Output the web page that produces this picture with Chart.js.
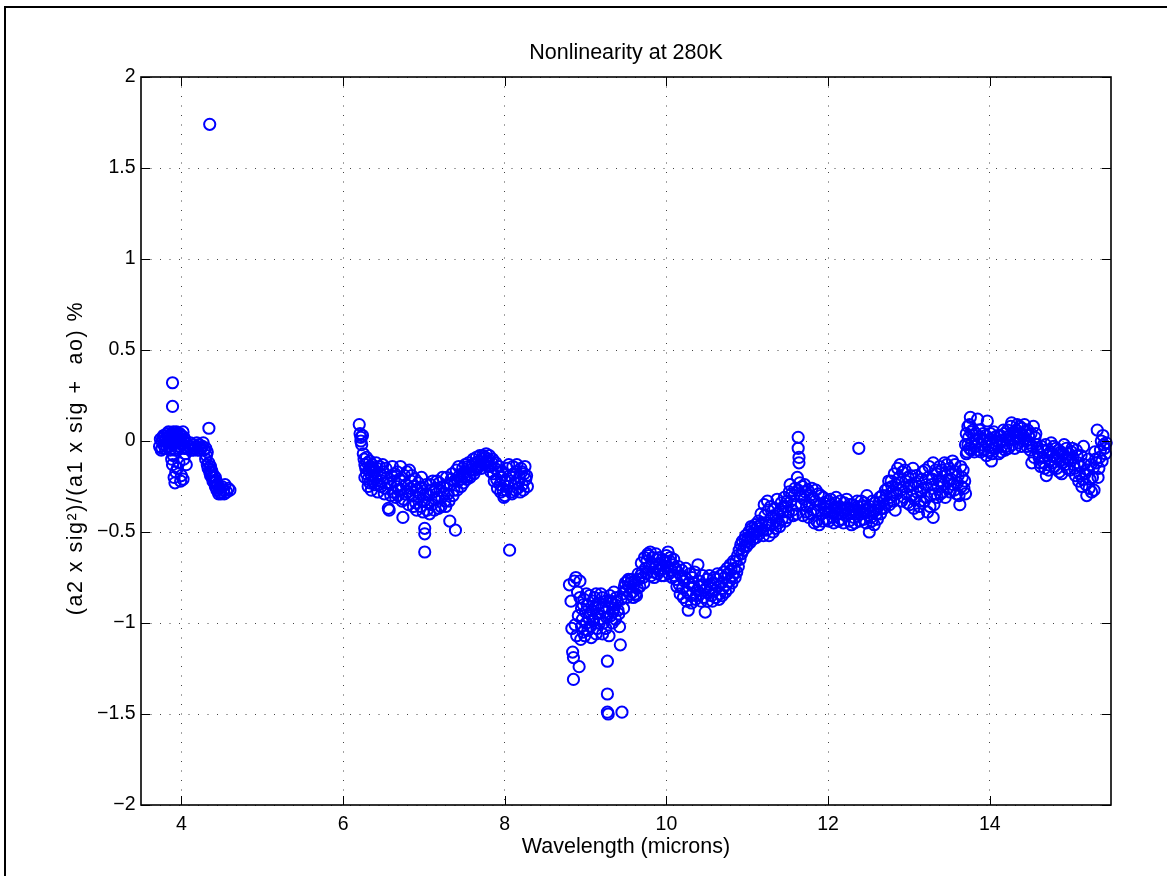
<!DOCTYPE html>
<html>
<head>
<meta charset="utf-8">
<title>Nonlinearity at 280K</title>
<script src="https://cdn.jsdelivr.net/npm/chart.js@4/dist/chart.umd.min.js"></script>
<style>
  html, body { margin: 0; padding: 0; background: #fff; overflow: hidden; }
  canvas { display: block; }
</style>
</head>
<body>
<canvas id="chart" width="1167" height="876"></canvas>
<script>
// Nonlinearity at 280K — MATLAB-style scatter of open blue circles.

const chartTitle = 'Nonlinearity at 280K';
const xTitle = 'Wavelength (microns)';
const yTitle = '(a2 x sig\u00b2)/(a1 x sig +  ao) %';

const xTickValues = [4, 6, 8, 10, 12, 14];
const yTickValues = [-2, -1.5, -1, -0.5, 0, 0.5, 1, 1.5, 2];

// ── Short-wave band ───────────────────────────────────────────────────────────
const swWavelength = [
  3.73, 3.75, 3.76, 3.77, 3.78, 3.79, 3.80, 3.81, 3.82, 3.83,
  3.84, 3.85, 3.86, 3.87, 3.88, 3.88, 3.89, 3.89, 3.89, 3.90,
  3.90, 3.90, 3.91, 3.91, 3.92, 3.92, 3.92, 3.93, 3.93, 3.94,
  3.95, 3.95, 3.96, 3.97, 3.97, 3.98, 3.99, 3.99, 4.00, 4.00,
  4.01, 4.02, 4.02, 4.03, 4.03, 4.04, 4.05, 4.06, 4.08, 4.10,
  4.12, 4.14, 4.16, 4.18, 4.20, 4.22, 4.24, 4.26, 4.28, 4.30,
  4.30, 4.32, 4.32, 4.33, 4.34, 4.34, 4.35, 4.35, 4.36, 4.37,
  4.38, 4.39, 4.40, 4.41, 4.42, 4.43, 4.44, 4.45, 4.46, 4.47,
  4.48, 4.50, 4.52, 4.54, 4.56, 4.58, 4.60,
  3.74, 3.76, 3.78, 3.80, 3.82, 3.84, 3.86, 3.88, 3.90, 3.92,
  3.94, 3.96, 3.98, 4.00, 4.02, 4.04, 4.11, 4.15, 4.19, 4.23,
  4.27, 4.31, 4.36, 4.38, 4.40, 4.42, 4.44, 4.46, 4.49, 4.53
];
const swNonlin = [
  -0.03, -0.05, 0.00, 0.02, -0.02, 0.03, -0.04, 0.01, 0.04, -0.01,
  0.02, -0.03, 0.03, 0.00, 0.04, -0.10, 0.32, 0.19, -0.13, -0.02,
  0.03, -0.08, 0.01, -0.20, -0.05, 0.02, -0.23, 0.04, -0.17, -0.01,
  0.03, -0.15, 0.00, 0.02, -0.12, -0.03, 0.01, -0.22, 0.03, -0.19,
  -0.02, 0.00, -0.21, 0.02, -0.10, -0.04, -0.07, -0.13, -0.04, -0.03,
  -0.05, -0.02, -0.04, -0.03, -0.05, -0.02, -0.04, -0.03, -0.05, -0.04,
  -0.10, -0.06, -0.13, -0.15, 0.07, -0.12, 1.74, -0.17, -0.19, -0.16,
  -0.20, -0.22, -0.19, -0.23, -0.25, -0.22, -0.27, -0.24, -0.29, -0.26,
  -0.28, -0.25, -0.27, -0.24, -0.28, -0.26, -0.27,
  0.01, -0.04, 0.03, 0.00, -0.03, 0.05, -0.05, 0.01, 0.05, -0.01,
  0.05, -0.04, 0.04, -0.01, 0.05, 0.01, -0.01, -0.05, -0.01, -0.05,
  -0.01, -0.08, -0.14, -0.17, -0.22, -0.20, -0.24, -0.26, -0.29, -0.29
];

// ── Mid-wave band ─────────────────────────────────────────────────────────────
const mwWavelength = [
  6.20, 6.21, 6.22, 6.22, 6.23, 6.24, 6.25, 6.26, 6.27, 6.28,
  6.29, 6.30, 6.31, 6.32, 6.33, 6.34, 6.35, 6.36, 6.37, 6.38,
  6.40, 6.42, 6.44, 6.46, 6.48, 6.50, 6.52, 6.54, 6.56, 6.57,
  6.58, 6.60, 6.62, 6.64, 6.66, 6.68, 6.70, 6.72, 6.74, 6.75,
  6.76, 6.78, 6.80, 6.82, 6.84, 6.86, 6.88, 6.90, 6.92, 6.94,
  6.96, 6.98, 7.00, 7.01, 7.01, 7.01, 7.02, 7.04, 7.06, 7.08,
  7.10, 7.12, 7.14, 7.16, 7.18, 7.20, 7.22, 7.24, 7.26, 7.28,
  7.30, 7.32, 7.33, 7.35, 7.37, 7.39, 7.40, 7.42, 7.44, 7.46,
  7.48, 7.50, 7.52, 7.54, 7.56, 7.58, 7.60, 7.62, 7.64, 7.66,
  7.68, 7.70, 7.72, 7.74, 7.76, 7.78, 7.80, 7.82, 7.84, 7.86,
  7.88, 7.90, 7.92, 7.94, 7.96, 7.98, 8.00, 8.01, 8.03, 8.04,
  8.06, 8.06, 8.08, 8.10, 8.12, 8.14, 8.16, 8.18, 8.20, 8.22,
  8.24, 8.26,
  6.27, 6.29, 6.31, 6.33, 6.35, 6.37, 6.39, 6.41, 6.43, 6.45,
  6.47, 6.49, 6.51, 6.53, 6.55, 6.59, 6.61, 6.63, 6.65, 6.67,
  6.69, 6.71, 6.73, 6.77, 6.79, 6.81, 6.83, 6.85, 6.87, 6.89,
  6.91, 6.93, 6.95, 6.97, 6.99, 7.03, 7.05, 7.07, 7.09, 7.11,
  7.13, 7.15, 7.17, 7.19, 7.21, 7.23, 7.25, 7.27, 7.29, 7.31,
  7.34, 7.36, 7.38, 7.41, 7.43, 7.45, 7.47, 7.49, 7.51, 7.53,
  7.55, 7.57, 7.59, 7.61, 7.63, 7.65, 7.67, 7.69, 7.71, 7.73,
  7.75, 7.77, 7.79, 7.81, 7.83, 7.85, 7.87, 7.89, 7.91, 7.93,
  7.95, 7.97, 7.99, 8.02, 8.05, 8.07, 8.09, 8.11, 8.13, 8.15,
  8.17, 8.19, 8.21, 8.23, 8.25, 8.27, 8.28
];
const mwNonlin = [
  0.09, 0.04, 0.02, 0.00, -0.02, 0.03, -0.07, -0.10, -0.13, -0.15,
  -0.18, -0.12, -0.21, -0.16, -0.23, -0.14, -0.19, -0.13, -0.22, -0.17,
  -0.20, -0.15, -0.24, -0.18, -0.22, -0.17, -0.26, -0.20, -0.37, -0.38,
  -0.23, -0.19, -0.28, -0.18, -0.25, -0.30, -0.21, -0.27, -0.42, -0.32,
  -0.19, -0.24, -0.28, -0.16, -0.22, -0.30, -0.25, -0.34, -0.27, -0.31,
  -0.36, -0.26, -0.33, -0.48, -0.51, -0.61, -0.29, -0.38, -0.30, -0.24,
  -0.35, -0.28, -0.32, -0.22, -0.37, -0.27, -0.31, -0.25, -0.33, -0.20,
  -0.29, -0.44, -0.24, -0.18, -0.27, -0.49, -0.16, -0.22, -0.19, -0.25,
  -0.15, -0.20, -0.17, -0.14, -0.19, -0.16, -0.13, -0.18, -0.12, -0.15,
  -0.11, -0.13, -0.10, -0.12, -0.09, -0.11, -0.10, -0.14, -0.12, -0.18,
  -0.15, -0.21, -0.17, -0.24, -0.20, -0.27, -0.30, -0.22, -0.15, -0.25,
  -0.60, -0.19, -0.28, -0.14, -0.23, -0.17, -0.26, -0.20, -0.15, -0.24,
  -0.18, -0.21,
  -0.20, -0.09, -0.25, -0.11, -0.27, -0.15, -0.24, -0.12, -0.28, -0.14,
  -0.25, -0.13, -0.29, -0.15, -0.23, -0.30, -0.14, -0.22, -0.31, -0.17,
  -0.27, -0.14, -0.33, -0.29, -0.17, -0.35, -0.26, -0.19, -0.36, -0.21,
  -0.38, -0.23, -0.29, -0.20, -0.39, -0.24, -0.34, -0.40, -0.27, -0.22,
  -0.38, -0.26, -0.31, -0.23, -0.36, -0.20, -0.29, -0.36, -0.24, -0.33,
  -0.21, -0.30, -0.22, -0.27, -0.14, -0.21, -0.18, -0.23, -0.13, -0.21,
  -0.12, -0.20, -0.14, -0.10, -0.16, -0.09, -0.14, -0.08, -0.15, -0.08,
  -0.13, -0.07, -0.14, -0.08, -0.17, -0.10, -0.22, -0.12, -0.26, -0.14,
  -0.28, -0.17, -0.31, -0.27, -0.13, -0.22, -0.29, -0.18, -0.27, -0.13,
  -0.23, -0.28, -0.17, -0.27, -0.14, -0.19, -0.25
];

// ── Long-wave band, lower half (8.8 – 11.2 µm) ────────────────────────────────
const lwLowWavelength = [
  8.80, 8.82, 8.83, 8.84, 8.85, 8.85, 8.86, 8.87, 8.88, 8.90,
  8.91, 8.92, 8.93, 8.94, 8.95, 8.96, 8.97, 8.98, 9.00, 9.01,
  9.02, 9.04, 9.05, 9.06, 9.08, 9.09, 9.10, 9.12, 9.13, 9.14,
  9.15, 9.17, 9.18, 9.20, 9.21, 9.22, 9.24, 9.25, 9.26, 9.27,
  9.27, 9.27, 9.28, 9.29, 9.30, 9.31, 9.33, 9.34, 9.35, 9.37,
  9.38, 9.40, 9.42, 9.43, 9.45, 9.46, 9.48, 9.50, 9.52, 9.54,
  9.56, 9.58, 9.60, 9.62, 9.64, 9.66, 9.68, 9.70, 9.72, 9.74,
  9.76, 9.78, 9.79, 9.80, 9.82, 9.84, 9.86, 9.88, 9.90, 9.92,
  9.94, 9.96, 9.98, 10.00, 10.01, 10.02, 10.04, 10.06, 10.08, 10.10,
  10.12, 10.14, 10.16, 10.18, 10.20, 10.22, 10.24, 10.26, 10.27, 10.28,
  10.30, 10.32, 10.34, 10.36, 10.38, 10.40, 10.42, 10.44, 10.46, 10.48,
  10.49, 10.50, 10.52, 10.54, 10.56, 10.58, 10.60, 10.62, 10.64, 10.66,
  10.68, 10.70, 10.72, 10.74, 10.76, 10.78, 10.80, 10.82, 10.84, 10.86,
  10.87, 10.88, 10.90, 10.91, 10.92, 10.94, 10.96, 10.98, 11.00, 11.02,
  11.04, 11.06, 11.08, 11.10, 11.12, 11.14, 11.16,
  8.89, 8.93, 8.95, 8.97, 8.99, 9.01, 9.03, 9.05, 9.07, 9.09,
  9.11, 9.13, 9.15, 9.17, 9.19, 9.21, 9.23, 9.25, 9.29, 9.31,
  9.33, 9.35, 9.37, 9.39, 9.41, 9.44, 9.47, 9.49, 9.51, 9.53,
  9.55, 9.57, 9.59, 9.61, 9.63, 9.65, 9.67, 9.69, 9.71, 9.73,
  9.75, 9.77, 9.81, 9.83, 9.85, 9.87, 9.89, 9.91, 9.93, 9.95,
  9.97, 9.99, 10.03, 10.05, 10.07, 10.09, 10.11, 10.13, 10.15, 10.17,
  10.19, 10.21, 10.23, 10.25, 10.29, 10.31, 10.33, 10.35, 10.37, 10.39,
  10.41, 10.43, 10.45, 10.47, 10.51, 10.53, 10.55, 10.57, 10.59, 10.61,
  10.63, 10.65, 10.67, 10.69, 10.71, 10.73, 10.75, 10.77, 10.79, 10.81,
  10.83, 10.85, 10.89, 10.93, 10.95, 10.97, 10.99, 11.01, 11.03, 11.05,
  11.07, 11.09, 11.11, 11.13, 11.15
];
const lwLowNonlin = [
  -0.79, -0.88, -1.03, -1.16, -1.19, -1.31, -0.77, -1.01, -0.75, -0.83,
  -0.96, -1.24, -0.77, -1.09, -0.92, -0.98, -1.05, -0.87, -0.94, -1.00,
  -0.90, -0.97, -0.85, -1.02, -0.93, -0.88, -0.99, -0.91, -0.84, -1.03,
  -0.95, -0.89, -0.98, -0.92, -0.86, -1.00, -0.94, -0.88, -0.97, -1.21,
  -1.39, -1.49, -1.50, -0.92, -0.85, -0.96, -0.89, -0.94, -0.83, -0.90,
  -0.86, -0.93, -1.02, -1.12, -1.49, -0.84, -0.80, -0.82, -0.77, -0.80,
  -0.78, -0.83, -0.79, -0.84, -0.81, -0.76, -0.74, -0.72, -0.78, -0.70,
  -0.66, -0.63, -0.69, -0.61, -0.67, -0.72, -0.69, -0.65, -0.71, -0.68,
  -0.74, -0.70, -0.66, -0.63, -0.69, -0.61, -0.66, -0.71, -0.68, -0.74,
  -0.76, -0.72, -0.79, -0.74, -0.81, -0.77, -0.70, -0.83, -0.93, -0.78,
  -0.85, -0.75, -0.80, -0.87, -0.82, -0.77, -0.84, -0.79, -0.86, -0.94,
  -0.81, -0.76, -0.83, -0.79, -0.85, -0.78, -0.82, -0.76, -0.80, -0.84,
  -0.78, -0.81, -0.75, -0.79, -0.73, -0.77, -0.71, -0.74, -0.70, -0.66,
  -0.72, -0.63, -0.60, -0.65, -0.57, -0.55, -0.58, -0.52, -0.55, -0.50,
  -0.53, -0.48, -0.51, -0.46, -0.50, -0.44, -0.48,
  -1.07, -0.86, -1.02, -0.90, -1.07, -0.84, -1.04, -0.95, -1.08, -0.98,
  -0.86, -1.06, -0.90, -1.00, -0.84, -1.06, -0.91, -1.03, -1.07, -0.88,
  -1.00, -0.92, -0.98, -0.88, -0.95, -0.87, -0.92, -0.78, -0.86, -0.76,
  -0.84, -0.76, -0.86, -0.77, -0.85, -0.73, -0.80, -0.67, -0.75, -0.64,
  -0.73, -0.62, -0.74, -0.64, -0.75, -0.62, -0.73, -0.64, -0.71, -0.65,
  -0.74, -0.67, -0.73, -0.64, -0.75, -0.65, -0.70, -0.80, -0.69, -0.84,
  -0.71, -0.86, -0.75, -0.88, -0.73, -0.89, -0.78, -0.72, -0.85, -0.68,
  -0.80, -0.88, -0.74, -0.82, -0.88, -0.74, -0.81, -0.88, -0.75, -0.86,
  -0.73, -0.87, -0.74, -0.85, -0.72, -0.83, -0.70, -0.81, -0.68, -0.78,
  -0.66, -0.75, -0.69, -0.62, -0.60, -0.54, -0.58, -0.53, -0.56, -0.47,
  -0.54, -0.49, -0.53, -0.47, -0.51
];

// ── Long-wave band, upper half (11.2 – 15.4 µm) ───────────────────────────────
const lwHighWavelength = [
  11.18, 11.20, 11.21, 11.22, 11.24, 11.26, 11.28, 11.30, 11.32, 11.34,
  11.36, 11.38, 11.40, 11.42, 11.44, 11.46, 11.48, 11.50, 11.52, 11.53,
  11.54, 11.56, 11.58, 11.60, 11.62, 11.63, 11.63, 11.63, 11.64, 11.64,
  11.65, 11.66, 11.68, 11.70, 11.72, 11.74, 11.76, 11.78, 11.80, 11.82,
  11.84, 11.86, 11.88, 11.90, 11.92, 11.94, 11.96, 11.98, 12.00, 12.02,
  12.04, 12.06, 12.08, 12.10, 12.12, 12.14, 12.16, 12.18, 12.20, 12.22,
  12.24, 12.26, 12.28, 12.30, 12.32, 12.34, 12.36, 12.38, 12.40, 12.42,
  12.44, 12.46, 12.48, 12.50, 12.51, 12.52, 12.54, 12.56, 12.58, 12.60,
  12.62, 12.64, 12.66, 12.68, 12.72, 12.74, 12.76, 12.78, 12.80, 12.82,
  12.83, 12.84, 12.86, 12.88, 12.89, 12.90, 12.92, 12.94, 12.96, 12.98,
  13.00, 13.02, 13.04, 13.06, 13.08, 13.10, 13.12, 13.14, 13.16, 13.18,
  13.20, 13.22, 13.24, 13.26, 13.28, 13.30, 13.30, 13.32, 13.34, 13.36,
  13.38, 13.40, 13.42, 13.44, 13.46, 13.48, 13.50, 13.52, 13.54, 13.56,
  13.58, 13.60, 13.62, 13.63, 13.64, 13.66, 13.68, 13.70, 13.70, 13.71,
  13.72, 13.73, 13.74, 13.75, 13.76, 13.77, 13.78, 13.80, 13.82, 13.84,
  13.85, 13.86, 13.88, 13.90, 13.92, 13.94, 13.96, 13.97, 13.98, 14.00,
  14.02, 14.04, 14.06, 14.08, 14.10, 14.12, 14.14, 14.16, 14.18, 14.20,
  14.22, 14.24, 14.26, 14.28, 14.30, 14.32, 14.34, 14.36, 14.38, 14.40,
  14.42, 14.44, 14.46, 14.48, 14.50, 14.52, 14.54, 14.56, 14.58, 14.60,
  14.62, 14.64, 14.66, 14.68, 14.70, 14.72, 14.74, 14.76, 14.78, 14.80,
  14.82, 14.84, 14.86, 14.88, 14.90, 14.92, 14.94, 14.96, 14.98, 15.00,
  15.02, 15.04, 15.06, 15.08, 15.10, 15.12, 15.14, 15.16, 15.18, 15.20,
  15.22, 15.24, 15.26, 15.28, 15.30, 15.32, 15.33, 15.34, 15.36, 15.38,
  15.40, 15.42, 15.44,
  11.17, 11.19, 11.23, 11.25, 11.27, 11.29, 11.31, 11.33, 11.35, 11.37,
  11.39, 11.41, 11.43, 11.45, 11.47, 11.49, 11.51, 11.55, 11.57, 11.59,
  11.61, 11.67, 11.69, 11.71, 11.73, 11.75, 11.77, 11.79, 11.81, 11.83,
  11.85, 11.87, 11.89, 11.91, 11.93, 11.95, 11.97, 11.99, 12.01, 12.03,
  12.05, 12.07, 12.09, 12.11, 12.13, 12.15, 12.17, 12.19, 12.21, 12.23,
  12.25, 12.27, 12.29, 12.31, 12.33, 12.35, 12.37, 12.39, 12.41, 12.43,
  12.45, 12.47, 12.49, 12.53, 12.55, 12.57, 12.59, 12.61, 12.63, 12.65,
  12.67, 12.69, 12.71, 12.73, 12.75, 12.77, 12.79, 12.81, 12.85, 12.87,
  12.91, 12.93, 12.95, 12.97, 12.99, 13.01, 13.03, 13.05, 13.07, 13.09,
  13.11, 13.13, 13.15, 13.17, 13.19, 13.21, 13.23, 13.25, 13.27, 13.29,
  13.31, 13.33, 13.35, 13.37, 13.39, 13.41, 13.43, 13.45, 13.47, 13.49,
  13.51, 13.53, 13.55, 13.57, 13.59, 13.61, 13.65, 13.67, 13.69, 13.71,
  13.73, 13.75, 13.77, 13.79, 13.81, 13.83, 13.87, 13.89, 13.91, 13.93,
  13.95, 13.99, 14.01, 14.03, 14.05, 14.07, 14.09, 14.11, 14.13, 14.15,
  14.17, 14.19, 14.21, 14.23, 14.25, 14.27, 14.29, 14.31, 14.33, 14.35,
  14.37, 14.39, 14.41, 14.43, 14.45, 14.47, 14.49, 14.51, 14.53, 14.55,
  14.57, 14.59, 14.61, 14.63, 14.65, 14.67, 14.69, 14.71, 14.73, 14.75,
  14.77, 14.79, 14.81, 14.83, 14.85, 14.87, 14.89, 14.91, 14.93, 14.95,
  14.97, 14.99, 15.01, 15.03, 15.05, 15.07, 15.09, 15.11, 15.13, 15.15,
  15.17, 15.19, 15.21, 15.23, 15.25, 15.27, 15.29, 15.31, 15.35, 15.37,
  15.39, 15.41, 15.43
];
const lwHighNonlin = [
  -0.45, -0.52, -0.35, -0.41, -0.49, -0.38, -0.46, -0.42, -0.50, -0.37,
  -0.44, -0.40, -0.47, -0.34, -0.39, -0.31, -0.36, -0.42, -0.28, -0.24,
  -0.33, -0.38, -0.30, -0.35, -0.20, 0.02, -0.04, -0.27, -0.09, -0.12,
  -0.23, -0.30, -0.25, -0.32, -0.28, -0.36, -0.42, -0.30, -0.26, -0.38,
  -0.33, -0.44, -0.29, -0.35, -0.40, -0.31, -0.37, -0.43, -0.33, -0.39,
  -0.35, -0.42, -0.37, -0.31, -0.40, -0.36, -0.43, -0.38, -0.34, -0.41,
  -0.37, -0.44, -0.39, -0.35, -0.42, -0.38, -0.33, -0.04, -0.40, -0.36,
  -0.43, -0.38, -0.30, -0.41, -0.50, -0.36, -0.44, -0.39, -0.34, -0.40,
  -0.36, -0.31, -0.37, -0.33, -0.30, -0.26, -0.35, -0.22, -0.28, -0.18,
  -0.38, -0.24, -0.15, -0.20, -0.13, -0.27, -0.17, -0.31, -0.22, -0.34,
  -0.25, -0.19, -0.30, -0.37, -0.23, -0.28, -0.40, -0.33, -0.21, -0.26,
  -0.16, -0.31, -0.20, -0.36, -0.24, -0.42, -0.12, -0.29, -0.18, -0.25,
  -0.14, -0.22, -0.28, -0.12, -0.19, -0.26, -0.15, -0.21, -0.11, -0.27,
  -0.17, -0.23, -0.30, -0.35, -0.14, -0.20, -0.26, -0.29, -0.02, 0.04,
  -0.06, 0.08, 0.02, -0.04, 0.13, 0.05, -0.01, 0.03, -0.03, 0.01,
  0.12, -0.05, 0.02, -0.02, 0.04, 0.00, -0.08, 0.11, -0.03, 0.01,
  -0.11, -0.04, 0.02, -0.02, 0.03, -0.01, -0.06, 0.00, 0.04, -0.03,
  0.06, 0.01, 0.08, -0.02, 0.05, 0.02, 0.09, -0.01, 0.04, 0.07,
  0.01, 0.05, -0.03, 0.03, -0.05, -0.12, 0.08, 0.02, -0.02, -0.06,
  -0.12, -0.03, -0.09, -0.15, -0.19, -0.05, -0.11, -0.01, -0.08, -0.14,
  -0.04, -0.10, -0.17, -0.06, -0.12, -0.02, -0.09, -0.15, -0.07, -0.11,
  -0.04, -0.13, -0.19, -0.08, -0.22, -0.14, -0.25, -0.03, -0.18, -0.30,
  -0.10, -0.21, -0.28, -0.15, -0.06, -0.12, 0.06, -0.20, -0.09, 0.00,
  0.03, -0.04, -0.01,
  -0.40, -0.49, -0.45, -0.33, -0.52, -0.36, -0.46, -0.41, -0.48, -0.32,
  -0.45, -0.38, -0.43, -0.36, -0.44, -0.33, -0.39, -0.29, -0.41, -0.26,
  -0.40, -0.35, -0.41, -0.24, -0.39, -0.27, -0.35, -0.40, -0.31, -0.45,
  -0.27, -0.38, -0.46, -0.30, -0.44, -0.34, -0.39, -0.36, -0.44, -0.32,
  -0.38, -0.45, -0.34, -0.37, -0.44, -0.33, -0.40, -0.45, -0.37, -0.32,
  -0.40, -0.35, -0.46, -0.38, -0.45, -0.40, -0.36, -0.44, -0.33, -0.39,
  -0.34, -0.45, -0.37, -0.42, -0.33, -0.46, -0.38, -0.43, -0.34, -0.40,
  -0.30, -0.37, -0.27, -0.34, -0.22, -0.31, -0.25, -0.33, -0.29, -0.23,
  -0.33, -0.25, -0.16, -0.29, -0.20, -0.35, -0.24, -0.15, -0.32, -0.19,
  -0.25, -0.36, -0.28, -0.17, -0.33, -0.24, -0.39, -0.14, -0.30, -0.21,
  -0.35, -0.16, -0.31, -0.22, -0.29, -0.16, -0.24, -0.31, -0.13, -0.22,
  -0.28, -0.18, -0.24, -0.13, -0.29, -0.19, -0.25, -0.16, -0.22, -0.07,
  -0.02, 0.09, -0.05, 0.06, -0.06, 0.04, 0.06, -0.06, 0.01, -0.05,
  0.03, -0.06, 0.04, -0.07, 0.05, -0.04, 0.00, -0.07, 0.03, -0.03,
  0.06, -0.05, 0.02, -0.04, 0.03, 0.10, 0.01, -0.04, 0.06, 0.02,
  0.08, -0.03, 0.03, 0.09, 0.00, 0.06, -0.01, 0.04, -0.03, -0.09,
  0.04, -0.04, -0.09, -0.14, -0.05, -0.12, -0.02, -0.08, -0.16, -0.06,
  -0.12, -0.03, -0.09, -0.15, -0.05, -0.11, -0.18, -0.07, -0.13, -0.04,
  -0.10, -0.16, -0.06, -0.09, -0.15, -0.05, -0.12, -0.18, -0.08, -0.21,
  -0.13, -0.24, -0.16, -0.26, -0.13, -0.20, -0.27, -0.10, -0.15, -0.05,
  -0.11, -0.02, -0.07
];

// ── Style ─────────────────────────────────────────────────────────────────────

const FONT = "'Liberation Sans', Arial, Helvetica, sans-serif";
const LABEL_SIZE = 21.5;
const TICK_SIZE = 19.5;
const TICK_LEN = 9;

const toPoints = (xs, ys) => xs.map((x, i) => ({ x, y: ys[i] }));
const minus = v => String(v).replace('-', '\u2212');

const circleStyle = {
  showLine: false,
  pointStyle: 'circle',
  pointRadius: 5.6,
  pointHoverRadius: 5.6,
  pointBorderWidth: 2,
  pointBorderColor: '#0000ff',
  pointBackgroundColor: 'rgba(0,0,0,0)',
  borderColor: '#0000ff',
  backgroundColor: 'rgba(0,0,0,0)',
  clip: false,
};

// Figure frame, boxed axes with inward ticks, and the rotated y label.
const matlabAxes = {
  id: 'matlabAxes',
  beforeDraw(chart) {
    const c = chart.ctx;
    c.save();
    c.fillStyle = '#fff';
    c.fillRect(0, 0, chart.width, chart.height);
    c.strokeStyle = '#000';
    c.lineWidth = 2;
    c.strokeRect(5, 7, chart.width + 40, chart.height + 40);
    c.restore();
  },
  afterDraw(chart) {
    const { ctx: c, chartArea: a, scales: { x, y } } = chart;
    c.save();
    c.strokeStyle = '#000';
    c.lineWidth = 1;
    c.beginPath();
    xTickValues.forEach(v => {
      const px = Math.round(x.getPixelForValue(v)) + 0.5;
      c.moveTo(px, a.bottom); c.lineTo(px, a.bottom - TICK_LEN);
      c.moveTo(px, a.top); c.lineTo(px, a.top + TICK_LEN);
    });
    yTickValues.forEach(v => {
      const py = Math.round(y.getPixelForValue(v)) + 0.5;
      c.moveTo(a.left, py); c.lineTo(a.left + TICK_LEN, py);
      c.moveTo(a.right, py); c.lineTo(a.right - TICK_LEN, py);
    });
    c.stroke();
    c.lineWidth = 1.6;
    c.strokeRect(a.left, a.top, a.right - a.left, a.bottom - a.top);

    c.translate(82.4, 458);
    c.rotate(-Math.PI / 2);
    c.font = `${LABEL_SIZE}px ${FONT}`;
    c.letterSpacing = '1.5px';
    c.fillStyle = '#000';
    c.textAlign = 'center';
    c.textBaseline = 'alphabetic';
    c.fillText(yTitle, 0, 0);
    c.restore();
  },
};

new Chart(document.getElementById('chart').getContext('2d'), {
  type: 'scatter',
  data: {
    datasets: [
      { label: 'SW', data: toPoints(swWavelength, swNonlin), ...circleStyle },
      { label: 'MW', data: toPoints(mwWavelength, mwNonlin), ...circleStyle },
      { label: 'LW low', data: toPoints(lwLowWavelength, lwLowNonlin), ...circleStyle },
      { label: 'LW high', data: toPoints(lwHighWavelength, lwHighNonlin), ...circleStyle },
    ],
  },
  options: {
    responsive: false,
    animation: false,
    events: [],
    layout: { padding: { left: 0, right: 56, top: 0, bottom: 0 } },
    plugins: {
      legend: { display: false },
      tooltip: { enabled: false },
      title: {
        display: true,
        text: chartTitle,
        fullSize: false,
        color: '#000',
        font: { family: FONT, size: LABEL_SIZE, weight: 'normal', lineHeight: 1.2 },
        padding: { top: 40.1, bottom: 11.1 },
      },
    },
    scales: {
      x: {
        type: 'linear',
        min: 3.5,
        max: 15.5,
        afterBuildTicks: s => { s.ticks = xTickValues.map(v => ({ value: v })); },
        afterFit: s => { s.height = 71; },
        grid: { color: '#444', lineWidth: 1, drawTicks: false },
        border: { display: false, dash: [1, 8.5] },
        ticks: {
          color: '#000', padding: 7.8, maxRotation: 0, autoSkip: false,
          font: { family: FONT, size: TICK_SIZE, lineHeight: 1.2 },
          callback: v => minus(v),
        },
        title: {
          display: true, text: xTitle, color: '#000',
          font: { family: FONT, size: LABEL_SIZE, lineHeight: 1.2 },
          padding: { top: 0, bottom: 15.6 },
        },
      },
      y: {
        type: 'linear',
        min: -2,
        max: 2,
        afterBuildTicks: s => { s.ticks = yTickValues.map(v => ({ value: v })); },
        afterFit: s => { s.width = 141; },
        grid: { color: '#444', lineWidth: 1, drawTicks: false },
        border: { display: false, dash: [1, 8.5] },
        ticks: {
          color: '#000', padding: 5.5, autoSkip: false,
          font: { family: FONT, size: TICK_SIZE, lineHeight: 1.2 },
          callback: v => minus(v),
        },
      },
    },
  },
  plugins: [matlabAxes],
});
</script>
</body>
</html>
